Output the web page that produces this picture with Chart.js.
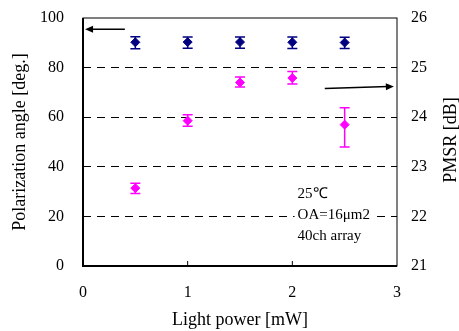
<!DOCTYPE html>
<html>
<head>
<meta charset="utf-8">
<script src="https://cdn.jsdelivr.net/npm/chart.js@4/dist/chart.umd.min.js"></script>
<style>
  html, body { margin: 0; padding: 0; background: #fff; }
  #wrap { width: 459px; height: 331px; }
</style>
</head>
<body>
<div id="wrap"><canvas id="chart"></canvas></div>
<script>
// light power [mW]
const lightPower = [0.5, 1, 1.5, 2, 2.5];

// polarization angle (left axis) with error range
const polAngle = [90.2, 90.3, 90.3, 90.2, 90.1];
const polLow = [87.6, 87.8, 87.8, 87.7, 87.7];
const polHigh = [92.4, 92.3, 92.3, 92.3, 92.2];

// PMSR (right axis) with error range
const pmsr = [22.57, 23.93, 24.70, 24.79, 23.85];
const pmsrLow = [22.46, 23.82, 24.61, 24.67, 23.40];
const pmsrHigh = [22.67, 24.05, 24.81, 24.92, 24.19];

const xTicks = [0, 1, 2, 3];
const leftTicks = [0, 20, 40, 60, 80, 100];
const rightTicks = [21, 22, 23, 24, 25, 26];

// arrows pointing to each axis: [x, y] in data units
const leftArrow = { axis: 'y', from: [0.40, 95.5], to: [0.02, 95.5] };
const rightArrow = { axis: 'y2', from: [2.31, 24.58], to: [2.97, 24.62] };

const noteLines = ['25\u2103', 'OA=16\u03bcm2', '40ch array'];
const noteX = 2.05;
const noteY = [29, 20.4, 11.9];

const serif = '"Liberation Serif", "Times New Roman", serif';
const navy = '#000080';
const magenta = '#ff00ff';

// keep the plot box where the reference has it
const noEdgePad = s => { s.paddingTop = 0; s.paddingBottom = 0; };

const errorBars = {
  id: 'errorBars',
  afterDatasetsDraw(chart) {
    const ctx = chart.ctx;
    const x = chart.scales.x;
    const sets = [
      { axis: chart.scales.y, lo: polLow, hi: polHigh, color: navy },
      { axis: chart.scales.y2, lo: pmsrLow, hi: pmsrHigh, color: magenta }
    ];
    ctx.save();
    ctx.lineWidth = 1.5;
    sets.forEach(s => {
      ctx.strokeStyle = s.color;
      lightPower.forEach((p, i) => {
        const px = x.getPixelForValue(p);
        const top = s.axis.getPixelForValue(s.hi[i]);
        const bot = s.axis.getPixelForValue(s.lo[i]);
        ctx.beginPath();
        ctx.moveTo(px, top); ctx.lineTo(px, bot);
        ctx.moveTo(px - 5, top); ctx.lineTo(px + 5, top);
        ctx.moveTo(px - 5, bot); ctx.lineTo(px + 5, bot);
        ctx.stroke();
      });
    });
    ctx.restore();
  }
};

const frameAndNotes = {
  id: 'frameAndNotes',
  beforeDatasetsDraw(chart) {
    const ctx = chart.ctx;
    const a = chart.chartArea;
    const x = chart.scales.x;
    const y = chart.scales.y;
    ctx.save();
    // frame
    ctx.strokeStyle = '#000';
    ctx.lineWidth = 1;
    ctx.strokeRect(a.left, a.top, a.right - a.left, a.bottom - a.top);
    ctx.lineWidth = 2;
    ctx.beginPath();
    ctx.moveTo(a.left, a.top); ctx.lineTo(a.left, a.bottom); ctx.lineTo(a.right, a.bottom);
    ctx.stroke();
    // inner x ticks
    ctx.lineWidth = 1;
    xTicks.slice(1, -1).forEach(t => {
      const px = x.getPixelForValue(t);
      ctx.beginPath();
      ctx.moveTo(px, a.bottom); ctx.lineTo(px, a.bottom - 5);
      ctx.stroke();
    });
    // notes with white background
    ctx.font = '15px ' + serif;
    ctx.textBaseline = 'middle';
    ctx.textAlign = 'left';
    noteLines.forEach((t, i) => {
      const px = x.getPixelForValue(noteX);
      const py = y.getPixelForValue(noteY[i]);
      const w = ctx.measureText(t).width;
      ctx.fillStyle = '#fff';
      ctx.fillRect(px - 3, py - 8, w + 6, 16);
      ctx.fillStyle = '#000';
      ctx.fillText(t, px, py);
    });
    // arrows
    [leftArrow, rightArrow].forEach(ar => {
      const ys = chart.scales[ar.axis];
      const x1 = x.getPixelForValue(ar.from[0]), y1 = ys.getPixelForValue(ar.from[1]);
      const x2 = x.getPixelForValue(ar.to[0]), y2 = ys.getPixelForValue(ar.to[1]);
      const ang = Math.atan2(y2 - y1, x2 - x1);
      ctx.strokeStyle = '#000';
      ctx.fillStyle = '#000';
      ctx.lineWidth = 1.5;
      ctx.beginPath();
      ctx.moveTo(x1, y1); ctx.lineTo(x2 - 6 * Math.cos(ang), y2 - 6 * Math.sin(ang));
      ctx.stroke();
      ctx.beginPath();
      ctx.moveTo(x2, y2);
      ctx.lineTo(x2 - 8 * Math.cos(ang) + 3.5 * Math.sin(ang), y2 - 8 * Math.sin(ang) - 3.5 * Math.cos(ang));
      ctx.lineTo(x2 - 8 * Math.cos(ang) - 3.5 * Math.sin(ang), y2 - 8 * Math.sin(ang) + 3.5 * Math.cos(ang));
      ctx.closePath();
      ctx.fill();
    });
    // right axis title, read bottom to top
    const r = chart.scales.y2;
    ctx.translate(r.right - 8, (a.top + a.bottom) / 2 - 2);
    ctx.rotate(-Math.PI / 2);
    ctx.font = '18px ' + serif;
    ctx.fillStyle = '#000';
    ctx.textAlign = 'center';
    ctx.textBaseline = 'middle';
    ctx.fillText('PMSR [dB]', 0, 0);
    ctx.restore();
  }
};

const chartConfig = {
  type: 'scatter',
  data: {
    datasets: [{
      label: 'Polarization angle',
      data: lightPower.map((p, i) => ({ x: p, y: polAngle[i] })),
      yAxisID: 'y',
      pointStyle: 'rectRot',
      pointRadius: 4.5,
      pointBackgroundColor: navy,
      pointBorderColor: navy,
      showLine: false
    }, {
      label: 'PMSR',
      data: lightPower.map((p, i) => ({ x: p, y: pmsr[i] })),
      yAxisID: 'y2',
      pointStyle: 'rectRot',
      pointRadius: 4.5,
      pointBackgroundColor: magenta,
      pointBorderColor: magenta,
      showLine: false
    }]
  },
  options: {
    responsive: true,
    maintainAspectRatio: false,
    animation: false,
    layout: { padding: { top: 18, left: 0, right: 0, bottom: 0 } },
    plugins: {
      legend: { display: false },
      tooltip: { enabled: false }
    },
    scales: {
      x: {
        type: 'linear',
        min: 0, max: 3,
        afterFit: s => { s.height = 65; s.paddingLeft = 0; s.paddingRight = 0; },
        afterBuildTicks: s => { s.ticks = xTicks.map(v => ({ value: v })); },
        grid: { display: false, drawTicks: false },
        border: { display: false },
        ticks: { color: '#000', padding: 17, font: { family: serif, size: 16 } },
        title: { display: true, text: 'Light power [mW]', color: '#000', padding: { top: 0, bottom: 0 }, font: { family: serif, size: 18 } }
      },
      y: {
        position: 'left',
        min: 0, max: 100,
        afterFit: s => { s.width = 83; noEdgePad(s); },
        afterBuildTicks: s => { s.ticks = leftTicks.map(v => ({ value: v })); },
        grid: {
          drawTicks: false,
          color: c => (c.tick.value > 0 && c.tick.value < 100) ? '#000' : 'rgba(0,0,0,0)',
          lineWidth: 1
        },
        border: { display: false, dash: [8, 6] },
        ticks: { color: '#000', padding: 19, font: { family: serif, size: 16 } },
        title: { display: true, text: 'Polarization angle [deg.]', color: '#000', padding: { top: 9, bottom: 0 }, font: { family: serif, size: 18 } }
      },
      y2: {
        position: 'right',
        min: 21, max: 26,
        afterFit: s => { s.width = 62; noEdgePad(s); },
        afterBuildTicks: s => { s.ticks = rightTicks.map(v => ({ value: v })); },
        grid: { display: false, drawTicks: false },
        border: { display: false },
        ticks: { color: '#000', padding: 14, font: { family: serif, size: 16 } }
      }
    }
  },
  plugins: [frameAndNotes, errorBars]
};

new Chart(document.getElementById('chart'), chartConfig);
</script>
</body>
</html>
